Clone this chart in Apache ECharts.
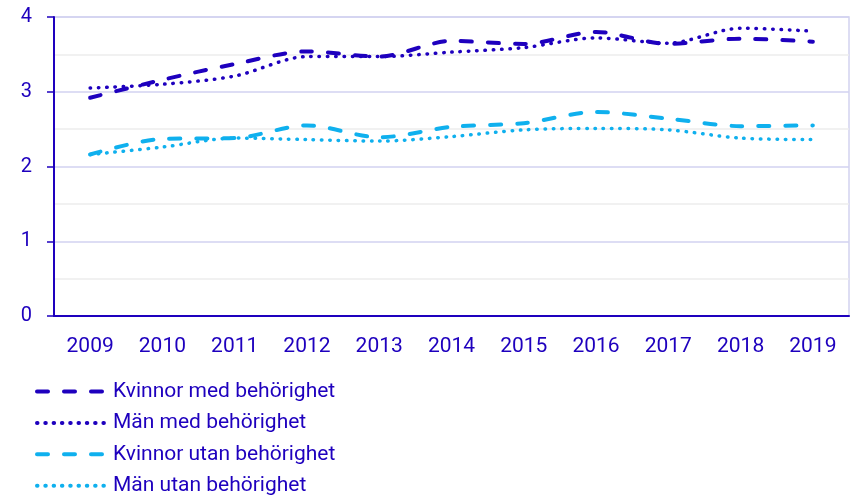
<!DOCTYPE html>
<html lang="sv">
<head>
    <meta charset="UTF-8">
    <title>Behörighet</title>
    <script src="https://cdn.jsdelivr.net/npm/echarts@6/dist/echarts.min.js"></script>
    <style>
        html, body { margin: 0; padding: 0; background: #fff; }
        #chart { width: 851px; height: 495px; }
    </style>
</head>
<body>
    <div id="chart"></div>
    <script>
        var years = ['2009', '2010', '2011', '2012', '2013', '2014', '2015', '2016', '2017', '2018', '2019'];
        var kvinnorMed = [2.92, 3.16, 3.37, 3.54, 3.47, 3.68, 3.64, 3.80, 3.64, 3.71, 3.67];
        var manMed = [3.05, 3.10, 3.21, 3.47, 3.47, 3.53, 3.59, 3.72, 3.65, 3.85, 3.81];
        var kvinnorUtan = [2.16, 2.37, 2.38, 2.55, 2.39, 2.53, 2.58, 2.73, 2.64, 2.54, 2.55];
        var manUtan = [2.16, 2.26, 2.38, 2.36, 2.34, 2.40, 2.49, 2.51, 2.49, 2.38, 2.36];

        var dark = '#1e00be';
        var light = '#0fb0ee';
        var font = 'Roboto';

        function line(name, data, color, dashed) {
            return {
                name: name,
                type: 'line',
                data: data,
                smooth: 0.3,
                symbol: 'none',
                lineStyle: dashed
                    ? { color: color, width: 4, type: [11, 16], cap: 'round' }
                    : { color: color, width: 3.5, type: [0.5, 7.8], cap: 'round' },
                itemStyle: { color: color }
            };
        }

        var chart = echarts.init(document.getElementById('chart'));
        chart.setOption({
            animation: false,
            textStyle: { fontFamily: font },
            grid: {
                left: 54, right: 2, top: 17, bottom: 179,
                show: true, borderColor: '#d2d2f0', borderWidth: 1.5
            },
            legend: {
                orient: 'vertical',
                left: 35, top: 381, height: 140, padding: 0,
                itemWidth: 71, itemHeight: 14, itemGap: 10.4,
                itemStyle: { opacity: 0 },
                lineStyle: { width: 4 },
                textStyle: { color: dark, fontSize: 21, fontFamily: font },
                data: ['Kvinnor med behörighet', 'Män med behörighet', 'Kvinnor utan behörighet', 'Män utan behörighet']
            },
            xAxis: {
                type: 'category',
                data: years,
                boundaryGap: true,
                axisLine: { lineStyle: { color: dark, width: 2 } },
                axisTick: { lineStyle: { color: dark, width: 1.5 }, length: 7 },
                axisLabel: { color: dark, fontSize: 21, margin: 20 }
            },
            yAxis: {
                type: 'value',
                min: 0, max: 4, interval: 1,
                axisLine: { show: true, lineStyle: { color: dark, width: 2 } },
                axisTick: { show: true, length: 7, lineStyle: { color: dark, width: 1.5 } },
                axisLabel: { color: dark, fontSize: 20, margin: 22 },
                splitLine: { lineStyle: { color: '#d2d2f0', width: 1.5 } },
                minorTick: { show: false, splitNumber: 2 },
                minorSplitLine: { show: true, lineStyle: { color: '#ededed', width: 1.5 } }
            },
            series: [
                line('Kvinnor med behörighet', kvinnorMed, dark, true),
                line('Män med behörighet', manMed, dark, false),
                line('Kvinnor utan behörighet', kvinnorUtan, light, true),
                line('Män utan behörighet', manUtan, light, false)
            ]
        });
    </script>
</body>
</html>
